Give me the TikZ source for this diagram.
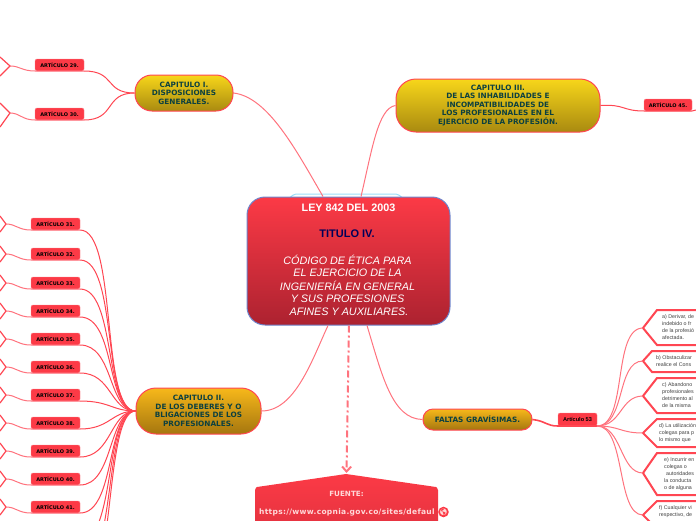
\documentclass[tikz,border=0pt]{standalone}
\usepackage{fontspec}
\usepackage{xcolor}
\setmainfont{Liberation Sans}
\newfontfamily\verdfont{DejaVu Sans}
\newfontfamily\urlfont[LetterSpace=4]{DejaVu Sans}
\newfontfamily\emojifont{Noto Emoji}
\usetikzlibrary{positioning,arrows.meta,backgrounds,calc}
\definecolor{redtop}{HTML}{FC3A46}
\definecolor{redbot}{HTML}{AC2230}
\definecolor{linkred}{HTML}{FF4652}
\definecolor{linkpale}{HTML}{FF737E}
\definecolor{capgreen}{HTML}{0C4040}
\definecolor{yellowtop}{HTML}{F7D61A}
\definecolor{yellowbot}{HTML}{A98A10}
\definecolor{orangetop}{HTML}{F7B81A}
\definecolor{orangebot}{HTML}{A5760F}

\begin{document}
\begin{tikzpicture}[
  x=1pt, y=-1pt,
  font=\fontsize{6}{7}\selectfont,
  >=Stealth,
  rootbox/.style={draw=cyan!30!blue!60!white, line width=1pt, rounded corners=18pt, top color=redtop, bottom color=redbot, minimum width=203pt, minimum height=128pt, inner sep=0pt},
  capbox/.style={draw=linkred, line width=1pt, rounded corners=17pt, align=center, inner sep=0pt, text=capgreen, font=\verdfont\bfseries\fontsize{7.3}{8.5}\selectfont},
  yellowcap/.style={capbox, top color=yellowtop, bottom color=yellowbot},
  orangecap/.style={capbox, top color=orangetop, bottom color=orangebot},
  tag/.style={draw=redtop!60!white, line width=0.4pt, fill=redtop, rounded corners=2pt, outer sep=0pt, minimum width=49pt, minimum height=12pt, inner sep=0pt, text=black, font=\verdfont\bfseries\fontsize{5}{6}\selectfont},
  link/.style={draw=linkred, line width=1pt},
  palelink/.style={draw=linkpale, line width=1pt},
  tipline/.style={draw=linkred, line width=1.2pt},
  hexa/.style={draw=linkred, line width=2pt, fill=white},
  note/.style={anchor=west, inner sep=0pt, text=black!75, font=\fontsize{5.3}{6}\selectfont},
  rootline/.style={inner sep=0pt, text=white, font=\fontsize{10.8}{13}\selectfont\itshape}
]
\useasboundingbox (0,0) rectangle (696,520);
\clip (0,0) rectangle (696,520);

% ---------------- Centre ----------------
\draw[draw=cyan!40!white, line width=1pt] (287,198) to[out=-90,in=180] (296,194) -- (396,194) to[out=0,in=-90] (405,198);
\node[rootbox] (root) at (348.5,261) {};
\node[inner sep=0pt, text=white, font=\bfseries\fontsize{10.8}{12}\selectfont] (law) at (348.5,208) {LEY 842 DEL 2003};
\node[inner sep=0pt, text=blue!35!black, font=\bfseries\fontsize{11}{12}\selectfont] (title) at (347,234) {TITULO IV.};
\node[rootline] (code1) at (347.5,260) {CÓDIGO DE ÉTICA PARA};
\node[rootline] (code2) at (347.5,273) {EL EJERCICIO DE LA};
\node[rootline] (code3) at (347.5,286) {INGENIERÍA EN GENERAL};
\node[rootline] (code4) at (347.5,299) {Y SUS PROFESIONES};
\node[rootline] (code5) at (349,312) {AFINES Y AUXILIARES.};

% ---------------- Chapters ----------------
\node[yellowcap, minimum width=98pt, minimum height=36pt] (capI) at (184,93) {CAPITULO I.\\DISPOSICIONES\\GENERALES.};
\node[yellowcap, minimum width=204pt, minimum height=53pt, rounded corners=20pt] (capIII) at (498,105.5) {CAPITULO III.\\DE LAS INHABILIDADES E\\INCOMPATIBILIDADES DE\\LOS PROFESIONALES EN EL\\EJERCICIO DE LA PROFESIÓN.};
\node[orangecap, minimum width=125pt, minimum height=46pt, rounded corners=20pt] (capII) at (198.5,411) {CAPITULO II.\\DE LOS DEBERES Y O\\BLIGACIONES DE LOS\\PROFESIONALES.};
\node[orangecap, minimum width=109pt, minimum height=21pt, rounded corners=10pt] (grave) at (477.5,419.5) {FALTAS GRAVÍSIMAS.};
\draw[palelink] (capI.east) .. controls (268,97) and (296,150) .. (root.north -| 323,0);
\draw[palelink] (capIII.west) .. controls (378,108) and (372,150) .. (root.north -| 361,0);
\draw[palelink] (capII.east) .. controls (295,411) and (312,360) .. (root.south -| 328,0);
\draw[palelink] (root.south -| 367,0) .. controls (382,375) and (392,419) .. (grave.west);

% ---------------- Articles, left ----------------
\node[tag] (art29) at (59.5,65) {ARTÍCULO 29.};
\node[tag, below=37pt of art29] (art30) {ARTÍCULO 30.};
\node[tag] (art31) at (55.5,224) {ARTÍCULO 31.};
\node[tag, below=18pt of art31] (art32) {ARTÍCULO 32.};
\node[tag, below=17pt of art32] (art33) {ARTÍCULO 33.};
\node[tag, below=16pt of art33] (art34) {ARTÍCULO 34.};
\node[tag, below=16pt of art34] (art35) {ARTÍCULO 35.};
\node[tag, below=16pt of art35] (art36) {ARTÍCULO 36.};
\node[tag, below=16pt of art36] (art37) {ARTÍCULO 37.};
\node[tag, below=16pt of art37] (art38) {ARTÍCULO 38.};
\node[tag, below=16pt of art38] (art39) {ARTÍCULO 39.};
\node[tag, below=16pt of art39] (art40) {ARTÍCULO 40.};
\node[tag, below=16pt of art40] (art41) {ARTÍCULO 41.};
\coordinate (art42) at (80,541);
\coordinate (art43) at (80,569);
\coordinate (art44) at (80,597);
\draw[link] (art29.south east) .. controls (116,71) and (104,93) .. (capI.west);
\draw[link] (art30.south east) .. controls (116,120) and (104,93) .. (capI.west);
\draw[link] (art31.south east) .. controls (118,230) and (100,411) .. (capII.west);
\draw[link] (art32.south east) .. controls (118,260) and (102,411) .. (capII.west);
\draw[link] (art33.south east) .. controls (116,289) and (104,411) .. (capII.west);
\draw[link] (art34.south east) .. controls (116,317) and (106,411) .. (capII.west);
\draw[link] (art35.south east) .. controls (114,345) and (108,411) .. (capII.west);
\draw[link] (art36.south east) .. controls (112,373) and (110,411) .. (capII.west);
\draw[link] (art37.south east) .. controls (110,401) and (112,411) .. (capII.west);
\draw[link] (art38.south east) .. controls (110,429) and (112,411) .. (capII.west);
\draw[link] (art39.south east) .. controls (112,457) and (110,411) .. (capII.west);
\draw[link] (art40.south east) .. controls (114,485) and (108,411) .. (capII.west);
\draw[link] (art41.south east) .. controls (116,513) and (106,411) .. (capII.west);
\draw[link] (art42) .. controls (116,541) and (104,411) .. (capII.west);
\draw[link] (art43) .. controls (116,569) and (104,411) .. (capII.west);
\draw[link] (art44) .. controls (116,597) and (104,411) .. (capII.west);

% ---------------- Cut branches, left edge ----------------
\coordinate (tip29) at (10,66);
\coordinate (tip30) at (10,113);
\coordinate (tip31) at (6,224);
\coordinate (tip32) at (6,254);
\coordinate (tip33) at (6,283);
\coordinate (tip34) at (6,311);
\coordinate (tip35) at (6,339);
\coordinate (tip36) at (6,367);
\coordinate (tip37) at (6,395);
\coordinate (tip38) at (6,423);
\coordinate (tip39) at (6,451);
\coordinate (tip40) at (6,479);
\coordinate (tip41) at (6,507);
\draw[tipline] (0,57) -- (tip29) -- (0,76);
\draw[tipline] (0,103) -- (tip30) -- (0,127);
\draw[tipline] (0,216) -- (tip31) -- (0,232);
\draw[tipline] (0,246) -- (tip32) -- (0,262);
\draw[tipline] (0,275) -- (tip33) -- (0,291);
\draw[tipline] (0,303) -- (tip34) -- (0,319);
\draw[tipline] (0,331) -- (tip35) -- (0,347);
\draw[tipline] (0,359) -- (tip36) -- (0,375);
\draw[tipline] (0,387) -- (tip37) -- (0,403);
\draw[tipline] (0,415) -- (tip38) -- (0,431);
\draw[tipline] (0,443) -- (tip39) -- (0,459);
\draw[tipline] (0,471) -- (tip40) -- (0,487);
\draw[tipline] (0,499) -- (tip41) -- (0,515);
\draw[palelink] (tip29) .. controls (20,66) and (22,71) .. (art29.south west) -- (art29.south east);
\draw[palelink] (tip30) .. controls (20,113) and (22,120) .. (art30.south west) -- (art30.south east);
\draw[palelink] (tip31) .. controls (16,224) and (18,230) .. (art31.south west) -- (art31.south east);
\draw[palelink] (tip32) .. controls (16,254) and (18,260) .. (art32.south west) -- (art32.south east);
\draw[palelink] (tip33) .. controls (16,283) and (18,289) .. (art33.south west) -- (art33.south east);
\draw[palelink] (tip34) .. controls (16,311) and (18,317) .. (art34.south west) -- (art34.south east);
\draw[palelink] (tip35) .. controls (16,339) and (18,345) .. (art35.south west) -- (art35.south east);
\draw[palelink] (tip36) .. controls (16,367) and (18,373) .. (art36.south west) -- (art36.south east);
\draw[palelink] (tip37) .. controls (16,395) and (18,401) .. (art37.south west) -- (art37.south east);
\draw[palelink] (tip38) .. controls (16,423) and (18,429) .. (art38.south west) -- (art38.south east);
\draw[palelink] (tip39) .. controls (16,451) and (18,457) .. (art39.south west) -- (art39.south east);
\draw[palelink] (tip40) .. controls (16,479) and (18,485) .. (art40.south west) -- (art40.south east);
\draw[palelink] (tip41) .. controls (16,507) and (18,513) .. (art41.south west) -- (art41.south east);

% ---------------- Article 45 ----------------
\node[tag, minimum width=48pt] (art45) at (668,105) {ARTÍCULO 45.};
\coordinate (edge45) at (696,110);
\draw[link] (capIII.east) .. controls (625,104) and (622,111) .. (art45.south west) -- (art45.south east) -- (edge45);

% ---------------- Article 53 and its cases ----------------
\node[tag, minimum width=39pt, minimum height=13pt, font=\bfseries\fontsize{5.6}{6}\selectfont] (art53) at (577.5,419.5) {Artículo 53};
\draw[link, line width=1.6pt] (grave.east) .. controls (546,421) and (546,426) .. (art53.south west) -- (art53.south east);
\coordinate (caseA) at (643,328);
\coordinate (caseB) at (643,361);
\coordinate (caseC) at (643,396);
\coordinate (caseD) at (643,433);
\coordinate (caseE) at (643,473);
\coordinate (caseF) at (643,515);
\draw[hexa] (700,310) -- (657,310) -- (caseA) -- (657,345) -- (700,345);
\draw[hexa] (700,351) -- (652,351) -- (caseB) -- (652,372) -- (700,372);
\draw[hexa] (700,378) -- (657,378) -- (caseC) -- (657,413) -- (700,413);
\draw[hexa] (700,419) -- (657,419) -- (caseD) -- (657,447) -- (700,447);
\draw[hexa] (700,453) -- (657,453) -- (caseE) -- (657,495) -- (700,495);
\draw[hexa] (700,501) -- (657,501) -- (caseF) -- (657,529) -- (700,529);
\draw[palelink] (art53.south east) .. controls (628,426) and (612,328) .. (caseA);
\draw[palelink] (art53.south east) .. controls (626,426) and (616,361) .. (caseB);
\draw[palelink] (art53.south east) .. controls (622,426) and (620,396) .. (caseC);
\draw[palelink] (art53.south east) .. controls (620,426) and (620,433) .. (caseD);
\draw[palelink] (art53.south east) .. controls (622,426) and (620,473) .. (caseE);
\draw[palelink] (art53.south east) .. controls (626,426) and (616,515) .. (caseF);
\node[note] (a1) at (662,317) {a) Derivar, de};
\node[note] (a2) at (662,324) {indebido o fr};
\node[note] (a3) at (662,331) {de la profesió};
\node[note] (a4) at (662,338) {afectada.};
\node[note] (b1) at (656,358) {b) Obstaculizar};
\node[note] (b2) at (656,365) {realice el Cons};
\node[note] (c1) at (662,385) {c) Abandono};
\node[note] (c2) at (662,392) {profesionales};
\node[note] (c3) at (662,399) {detrimento al};
\node[note] (c4) at (662,406) {de la misma};
\node[note] (d1) at (659,426) {d) La utilización};
\node[note] (d2) at (659,433) {colegas para p};
\node[note] (d3) at (659,440) {lo mismo que};
\node[note] (e1) at (664,460) {e) Incurrir en};
\node[note] (e2) at (664,467) {colegas o};
\node[note] (e3) at (666,474) {autoridades};
\node[note] (e4) at (664,481) {la conducta};
\node[note] (e5) at (664,488) {o de alguna};
\node[note] (f1) at (659,508) {f) Cualquier vi};
\node[note] (f2) at (659,515) {respectivo, de};

% ---------------- Source ----------------
\shade[top color=redtop, bottom color=redtop!70!redbot] (346,474) -- (436,487) to[out=0,in=-90] (438,490) -- (438,530) -- (255,530) -- (255,490) to[out=-90,in=180] (257,487) -- cycle;
\coordinate (srctop) at (346.5,473);
\draw[draw=linkpale, line width=2pt, dash pattern=on 7pt off 3pt on 2pt off 3pt, -{Straight Barb[length=5pt,width=9pt]}] (root.south -| 349,0) -- (srctop);
\node[inner sep=0pt, text=red!15!white, font=\verdfont\bfseries\fontsize{7.2}{8}\selectfont] (src) at (346.5,494) {FUENTE:};
\node[inner sep=0pt, anchor=west, text=red!15!white, font=\urlfont\bfseries\fontsize{7.5}{8}\selectfont] (url) at (259,512.5) {https://www.copnia.gov.co/sites/defaul};
\node[circle, fill=redtop, minimum size=9pt, inner sep=0pt, text=red!15!white, font=\emojifont\fontsize{6.5}{7}\selectfont] (globe) at (443.5,512) {🌎};
\end{tikzpicture}
\end{document}
